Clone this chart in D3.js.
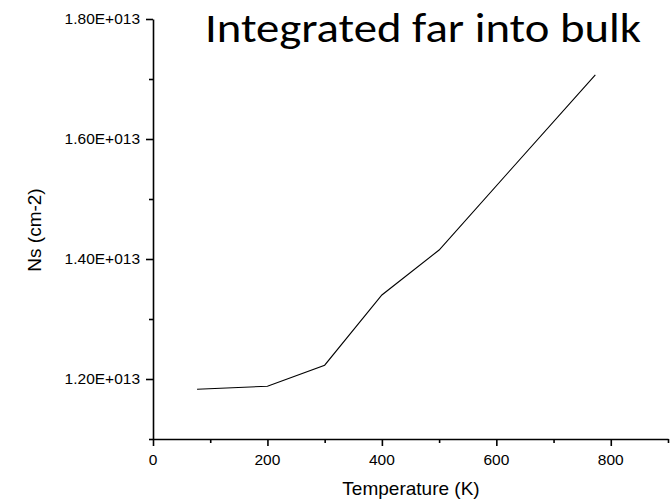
<!DOCTYPE html>
<html lang="en">
<head>
    <meta charset="UTF-8">
    <title>Integrated far into bulk</title>
    <style>
        body { margin: 0; background: #fff; }
        svg { display: block; }
        .axis path, .axis line { stroke: #000; stroke-width: 1.6px; }
        .label { font-family: "Liberation Sans", Arial, sans-serif; font-size: 19px; fill: #000; }
        .tick-label { font-family: "Liberation Sans", Arial, sans-serif; font-size: 15.5px; fill: #000; }
        .title { font-family: Calibri, Carlito, "Open Sans", sans-serif; font-size: 40px; fill: #000; }
        .line { fill: none; stroke: #000; stroke-width: 1.1px; }
    </style>
</head>
<body>
    <div id="chart"></div>
    <script src="https://d3js.org/d3.v7.min.js"></script>
    <script>
        // data
        const temperature = [77, 200, 300, 400, 500, 773];
        const ns = [1.183e13, 1.188e13, 1.223e13, 1.340e13, 1.415e13, 1.707e13];
        const xTicks = [0, 200, 400, 600, 800];
        const xMinor = [100, 300, 500, 700, 900];
        const yTicks = [1.2e13, 1.4e13, 1.6e13, 1.8e13];
        const yMinor = [1.1e13, 1.3e13, 1.5e13, 1.7e13];

        const width = 671, height = 503;
        const plotLeft = 153, plotRight = 668, plotTop = 19, plotBottom = 439;

        const svg = d3.select("#chart").append("svg")
            .attr("width", width)
            .attr("height", height);

        const x = d3.scaleLinear().domain([0, 900]).range([plotLeft, plotRight]);
        const y = d3.scaleLinear().domain([1.1e13, 1.8e13]).range([plotBottom, plotTop]);

        const fmt = v => (v / 1e13).toFixed(2) + "E+013";

        // minor ticks
        svg.append("g")
            .attr("class", "axis")
            .attr("transform", "translate(0," + plotBottom + ")")
            .call(d3.axisBottom(x).tickValues(xMinor).tickSize(4).tickFormat(""))
            .select(".domain").remove();
        svg.append("g")
            .attr("class", "axis")
            .attr("transform", "translate(" + plotLeft + ",0)")
            .call(d3.axisLeft(y).tickValues(yMinor).tickSize(4).tickFormat(""))
            .select(".domain").remove();

        // major axes, labels drawn separately
        svg.append("g")
            .attr("class", "axis")
            .attr("transform", "translate(0," + plotBottom + ")")
            .call(d3.axisBottom(x).tickValues(xTicks).tickSizeInner(7).tickSizeOuter(0).tickFormat(""));

        svg.append("g")
            .attr("class", "axis")
            .attr("transform", "translate(" + plotLeft + ",0)")
            .call(d3.axisLeft(y).tickValues(yTicks).tickSizeInner(7).tickSizeOuter(0).tickFormat(""));

        svg.selectAll(".xlab")
            .data(xTicks)
            .join("text")
            .attr("class", "tick-label")
            .attr("x", d => x(d))
            .attr("y", plotBottom + 26)
            .attr("text-anchor", "middle")
            .text(d => d);

        svg.selectAll(".ylab")
            .data(yTicks)
            .join("text")
            .attr("class", "tick-label")
            .attr("x", plotLeft - 13)
            .attr("y", d => y(d))
            .attr("dy", "0.35em")
            .attr("text-anchor", "end")
            .text(fmt);

        // data line
        const line = d3.line()
            .x((d, i) => x(temperature[i]))
            .y(d => y(d));
        svg.append("path")
            .datum(ns)
            .attr("class", "line")
            .attr("d", line);

        // labels
        svg.append("text")
            .attr("class", "label")
            .attr("x", 411)
            .attr("y", 495)
            .attr("text-anchor", "middle")
            .text("Temperature (K)");

        svg.append("text")
            .attr("class", "label")
            .attr("transform", "translate(41,230) rotate(-90)")
            .attr("text-anchor", "middle")
            .text("Ns (cm-2)");

        svg.append("text")
            .attr("class", "title")
            .attr("x", 205)
            .attr("y", 42)
            .attr("textLength", 436)
            .attr("lengthAdjust", "spacingAndGlyphs")
            .text("Integrated far into bulk");
    </script>
</body>
</html>
